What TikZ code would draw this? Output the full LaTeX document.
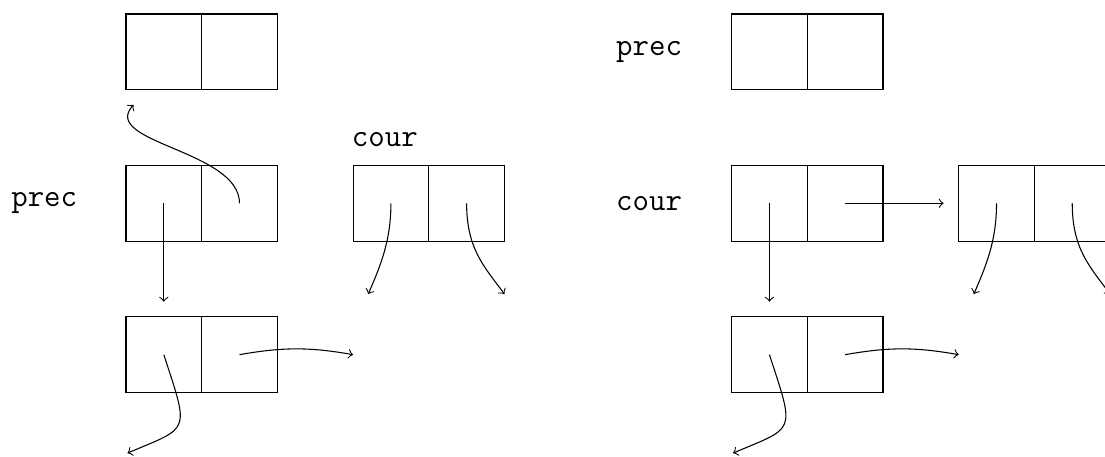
\documentclass[tikz,border=0pt]{standalone}
\begin{document}
\begin{tikzpicture}[
  cell/.style={draw, rectangle, minimum size=1cm, inner sep=0pt, outer sep=0pt},
  lbl/.style={font=\ttfamily\large, inner sep=0pt},
  ptr/.style={->},
]
\useasboundingbox (-1.664,0.185) rectangle (12.933,-5.839);

% ---- before the step: prec points to the middle cell pair ----
\node[cell] (TL1) at (0.5,-0.5) {};
\node[cell] (TL2) at (1.5,-0.5) {};
\node[cell] (ML1) at (0.5,-2.5) {};
\node[cell] (ML2) at (1.5,-2.5) {};
\node[cell] (BL1) at (0.5,-4.5) {};
\node[cell] (BL2) at (1.5,-4.5) {};
\node[cell] (CL1) at (3.5,-2.5) {};
\node[cell] (CL2) at (4.5,-2.5) {};

\node[lbl] (precL) at (-1.08,-2.5) {prec};
\node[lbl, anchor=base] (courL) at (3.42,-1.75) {cour};

\coordinate (upL) at (0.1,-1.2);
\coordinate (downL) at (0.5,-3.8);
\coordinate (cAL) at (3.2,-3.7);
\coordinate (cBL) at (5.0,-3.7);
\coordinate (bAL) at (0.02,-5.8);
\coordinate (bBL) at (3.0,-4.5);

\draw[ptr] (ML2.center) .. controls +(0,0.7) and +(-0.45,-0.5) .. (upL);
\draw[ptr] (ML1.center) -- (downL);
\draw[ptr] (CL1.center) .. controls +(0,-0.5) and +(0.16,0.37) .. (cAL);
\draw[ptr] (CL2.center) .. controls +(0,-0.6) and +(-0.27,0.365) .. (cBL);
\draw[ptr] (BL1.center) .. controls +(0.341,-1.045) and +(0.828,0.351) .. (bAL);
\draw[ptr] (BL2.center) to[bend left=10] (bBL);

% ---- after the step: cour has moved on ----
\node[cell] (TR1) at (8.5,-0.5) {};
\node[cell] (TR2) at (9.5,-0.5) {};
\node[cell] (MR1) at (8.5,-2.5) {};
\node[cell] (MR2) at (9.5,-2.5) {};
\node[cell] (BR1) at (8.5,-4.5) {};
\node[cell] (BR2) at (9.5,-4.5) {};
\node[cell] (NR1) at (11.5,-2.5) {};
\node[cell] (NR2) at (12.5,-2.5) {};

\node[lbl] (precR) at (6.91,-0.5) {prec};
\node[lbl] (courR) at (6.91,-2.5) {cour};

\coordinate (downR) at (8.5,-3.8);
\coordinate (nextR) at (10.8,-2.5);
\coordinate (cAR) at (11.2,-3.7);
\coordinate (cBR) at (13.0,-3.7);
\coordinate (bAR) at (8.02,-5.8);
\coordinate (bBR) at (11.0,-4.5);

\draw[ptr] (MR1.center) -- (downR);
\draw[ptr] (MR2.center) -- (nextR);
\draw[ptr] (NR1.center) .. controls +(0,-0.5) and +(0.16,0.37) .. (cAR);
\draw[ptr] (NR2.center) .. controls +(0,-0.6) and +(-0.27,0.365) .. (cBR);
\draw[ptr] (BR1.center) .. controls +(0.341,-1.045) and +(0.828,0.351) .. (bAR);
\draw[ptr] (BR2.center) to[bend left=10] (bBR);
\end{tikzpicture}
\end{document}
